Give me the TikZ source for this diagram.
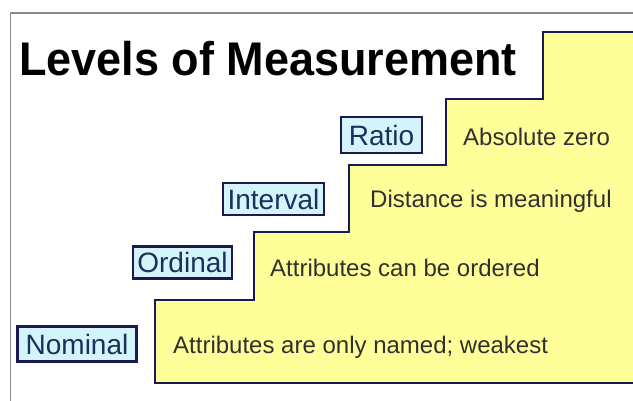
\documentclass[tikz,border=0pt]{standalone}
\usepackage{fontspec}
\setmainfont{Liberation Sans}
\definecolor{stairfill}{HTML}{FFFF99}
\definecolor{navy}{HTML}{1A1A50}
\definecolor{lblfill}{HTML}{D2F4FA}
\definecolor{lbltext}{HTML}{1C2F5C}
\definecolor{desctext}{HTML}{303030}
\definecolor{framegray}{HTML}{8A8A8A}
\tikzset{
  lvlbox/.style={draw=navy, line width=2.4pt, fill=lblfill, text=lbltext, inner sep=0pt, font=\fontsize{28}{31}\selectfont},
  desc/.style={anchor=west, text=desctext, inner sep=0pt, font=\fontsize{24}{27}\selectfont},
}
\begin{document}
\begin{tikzpicture}[x=1pt,y=-1pt]
\useasboundingbox (0,0) rectangle (633,401);
\fill[white] (0,0) rectangle (633,401);
% frame
\draw[framegray, line width=1.3pt] (10.5,420) -- (10.5,13) -- (650,13);
% title
\node[anchor=base west, inner sep=0pt, yscale=1.05, font=\bfseries\fontsize{45}{50}\selectfont] (title) at (19,76) {Levels of Measurement};
% staircase
\draw[navy, line width=2.2pt, fill=stairfill]
  (543,32) -- (660,32) -- (660,383) -- (155,383) -- (155,300) -- (254,300)
  -- (254,232) -- (349,232) -- (349,165) -- (446,165) -- (446,99) -- (543,99) -- cycle;
% level labels
\node[lvlbox, minimum width=119pt, minimum height=35pt] (nominal) at (77,344) {Nominal};
\node[lvlbox, minimum width=99pt, minimum height=32pt] (ordinal) at (182.5,262.5) {Ordinal};
\node[lvlbox, minimum width=101pt, minimum height=32pt] (interval) at (273.5,199) {Interval};
\node[lvlbox, minimum width=81pt, minimum height=36pt] (ratio) at (381.5,135) {Ratio};
% descriptions
\node[desc] (dratio) at (463,137) {Absolute zero};
\node[desc] (dinterval) at (370,201) {Distance is meaningful};
\node[desc] (dordinal) at (270,268) {Attributes can be ordered};
\node[desc] (dnominal) at (173,347) {Attributes are only named; weakest};
\end{tikzpicture}
\end{document}
